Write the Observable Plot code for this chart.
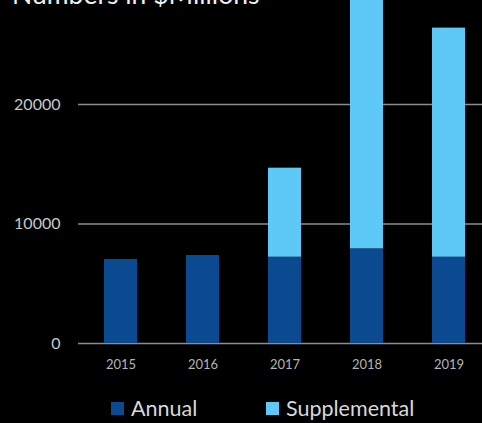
<!DOCTYPE html>
<html>
<head>
<meta charset="utf-8">
<script src="https://cdn.jsdelivr.net/npm/d3@7"></script>
<script src="https://cdn.jsdelivr.net/npm/@observablehq/plot@0.6"></script>
<style>
  html, body { margin: 0; padding: 0; background: #000; overflow: hidden; }
  #wrap { position: relative; width: 482px; height: 423px; overflow: hidden; background: #000; font-family: Lato, "Open Sans", sans-serif; }
  #title { position: absolute; z-index: 2; left: 12px; top: -18px; font-size: 26.5px; line-height: 24px; color: #f0f0f0; white-space: nowrap; }
  #chart { position: absolute; z-index: 1; left: 0; top: 0; }
  #legend { position: absolute; z-index: 2; top: 396px; left: 0; width: 482px; height: 24px; }
  .item { position: absolute; display: flex; align-items: center; font-size: 21.5px; line-height: 24px; color: #d8d8d8; white-space: nowrap; }
  .sw { width: 13px; height: 13px; margin-right: 7px; }
</style>
</head>
<body>
<div id="wrap">
  <div id="title">Numbers in $Millions</div>
  <div id="chart"></div>
  <div id="legend"></div>
</div>
<script>
const years = ["2015", "2016", "2017", "2018", "2019"];
const annual = [7030, 7360, 7220, 7920, 7220];
const supplemental = [0, 0, 7450, 23000, 19170];
const seriesNames = ["Annual", "Supplemental"];
const seriesColors = ["#0b4a91", "#5ec9f6"];
const yTicks = [0, 10000, 20000];

const data = [];
years.forEach((y, i) => {
  data.push({year: y, series: "Annual", value: annual[i]});
  data.push({year: y, series: "Supplemental", value: supplemental[i]});
});

const plot = Plot.plot({
  width: 482,
  height: 423,
  marginTop: 0,
  marginLeft: 78,
  marginRight: 0,
  marginBottom: 80,
  style: {background: "#000", color: "#c8c8c8", fontFamily: "Lato, sans-serif", overflow: "hidden"},
  x: {domain: years, range: [77.4, 490.5], paddingInner: 0.6, paddingOuter: 0.3, label: null},
  y: {domain: [0, 28700], label: null},
  color: {domain: seriesNames, range: seriesColors},
  marks: [
    Plot.ruleY(yTicks, {stroke: "#8c8c8c", strokeWidth: 1.5}),
    Plot.barY(data, {x: "year", y: "value", fill: "series", order: seriesNames, clip: true}),
    Plot.axisY(yTicks, {tickSize: 0, tickPadding: 18, fontSize: 16, fill: "#c8c8c8", label: null, tickFormat: d3.format("d")}),
    Plot.axisX({tickSize: 0, tickPadding: 16, fontSize: 13, fill: "#b4b4b4", label: null})
  ]
});
document.getElementById("chart").appendChild(plot);

const legend = document.getElementById("legend");
const lefts = [111, 266];
seriesNames.forEach((name, i) => {
  const it = document.createElement("div");
  it.className = "item";
  it.style.left = lefts[i] + "px";
  const sw = document.createElement("span");
  sw.className = "sw";
  sw.style.background = seriesColors[i];
  const t = document.createElement("span");
  t.textContent = name;
  it.appendChild(sw);
  it.appendChild(t);
  legend.appendChild(it);
});
</script>
</body>
</html>
